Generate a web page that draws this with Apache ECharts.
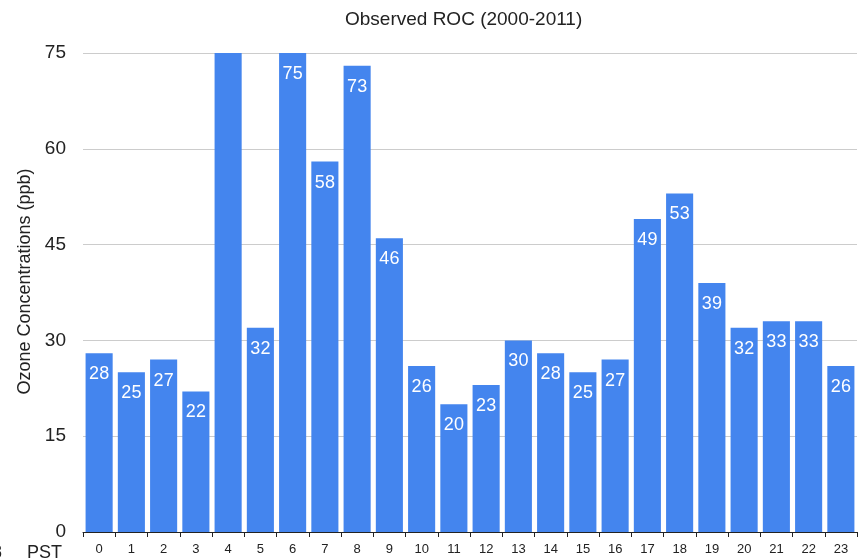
<!DOCTYPE html>
<html><head><meta charset="utf-8">
<script src="https://cdn.jsdelivr.net/npm/echarts@6/dist/echarts.min.js"></script>
<style>html,body{margin:0;padding:0;background:#fff}#c{width:859px;height:559px}</style>
</head><body><div id="c"></div>
<script>
const hours = ['0','1','2','3','4','5','6','7','8','9','10','11','12','13','14','15','16','17','18','19','20','21','22','23'];
const ozone = [28,25,27,22,80,32,75,58,73,46,26,20,23,30,28,25,27,49,53,39,32,33,33,26];
const yTicks = [0,15,30,45,60,75];
const titleText = 'Observed ROC (2000-2011)';
const yName = 'Ozone Concentrations (ppb)';
const xName = '8     PST';

const yMax = yTicks[yTicks.length-1];
const chart = echarts.init(document.getElementById('c'));
chart.setOption({
  animation:false,
  textStyle:{fontFamily:'Liberation Sans, Arial, sans-serif'},
  title:{text:titleText,left:340,top:5,textStyle:{fontSize:19,fontWeight:'normal',color:'#222'}},
  grid:{left:83,right:2,top:53,bottom:27,containLabel:false,outerBoundsMode:'none'},
  xAxis:{type:'category',data:hours,
    name:xName,nameLocation:'start',nameGap:21,
    nameTextStyle:{fontSize:18,color:'#222',verticalAlign:'top',padding:[12,0,0,0]},
    axisLine:{lineStyle:{color:'#222',width:1}},
    axisTick:{show:true,length:5,lineStyle:{color:'#222'}},
    axisLabel:{fontSize:13,color:'#222',margin:11}},
  yAxis:{type:'value',min:yTicks[0],max:yMax,interval:15,
    name:yName,nameLocation:'middle',nameGap:45,
    nameTextStyle:{fontSize:18,color:'#222',padding:[0,0,0,22]},
    axisLine:{show:false},axisTick:{show:false},
    axisLabel:{fontSize:19,color:'#222',margin:17},
    splitLine:{lineStyle:{color:'#cccccc'}}},
  series:[{type:'bar',barCategoryGap:'16%',clip:true,
    data:ozone.map(v=>({value:v,label:{show:v<=yMax}})),
    itemStyle:{color:'#4485ee'},
    label:{show:true,position:'insideTop',distance:12,color:'#fff',fontSize:18}}]
});
</script></body></html>
